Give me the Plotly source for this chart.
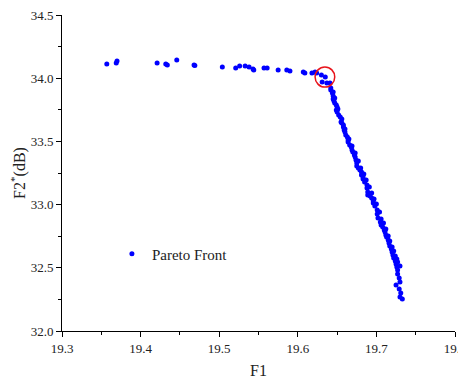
import plotly.graph_objects as go

# Pareto front data (F1, F2*)
f1_flat = [19.357, 19.369, 19.370, 19.421, 19.432, 19.434, 19.446, 19.468, 19.469,
           19.504, 19.521, 19.526, 19.533, 19.538, 19.543, 19.544, 19.557, 19.561,
           19.575, 19.586, 19.590, 19.607, 19.609, 19.618, 19.622, 19.624, 19.630,
           19.635, 19.631, 19.637, 19.641]
f2_flat = [34.112, 34.120, 34.136, 34.120, 34.112, 34.104, 34.144, 34.104, 34.100,
           34.089, 34.081, 34.097, 34.097, 34.089, 34.073, 34.065, 34.081, 34.081,
           34.065, 34.065, 34.057, 34.049, 34.041, 34.041, 34.049, 34.041, 34.025,
           34.009, 33.970, 33.962, 33.962]

f1_steep = [19.642, 19.642, 19.644, 19.645, 19.645, 19.646, 19.647, 19.649, 19.650,
            19.649, 19.650, 19.652, 19.654, 19.656, 19.655, 19.658, 19.658, 19.659,
            19.660, 19.661, 19.663, 19.664, 19.664, 19.666, 19.668, 19.669, 19.670,
            19.672, 19.673, 19.674, 19.675, 19.675, 19.677, 19.679, 19.681, 19.681,
            19.683, 19.683, 19.685, 19.688, 19.688, 19.689, 19.689, 19.692, 19.694,
            19.696, 19.696, 19.698, 19.701, 19.701, 19.702, 19.705, 19.706, 19.708,
            19.710, 19.711, 19.712, 19.713, 19.715, 19.716, 19.717, 19.719, 19.720,
            19.721, 19.722, 19.724, 19.725, 19.726, 19.727, 19.727, 19.729, 19.730,
            19.725, 19.729, 19.731, 19.730, 19.733,
            19.645, 19.647, 19.651, 19.656, 19.660, 19.665, 19.669, 19.673, 19.677,
            19.680, 19.684, 19.687, 19.691, 19.694, 19.697, 19.700, 19.704, 19.706,
            19.709, 19.712, 19.715, 19.717, 19.720, 19.722, 19.724, 19.726, 19.727,
            19.730]
f2_steep = [33.922, 33.907, 33.883, 33.859, 33.835, 33.820, 33.804, 33.788, 33.772,
            33.748, 33.733, 33.709, 33.693, 33.677, 33.653, 33.630, 33.614, 33.590,
            33.574, 33.551, 33.535, 33.511, 33.495, 33.472, 33.456, 33.432, 33.416,
            33.392, 33.377, 33.353, 33.329, 33.305, 33.290, 33.274, 33.258, 33.234,
            33.218, 33.203, 33.179, 33.155, 33.131, 33.100, 33.076, 33.068, 33.052,
            33.028, 33.013, 32.989, 32.957, 32.926, 32.894, 32.862, 32.839, 32.823,
            32.799, 32.783, 32.759, 32.744, 32.720, 32.696, 32.672, 32.649, 32.625,
            32.601, 32.578, 32.554, 32.530, 32.506, 32.483, 32.451, 32.419, 32.388,
            32.364, 32.332, 32.301, 32.269, 32.253,
            33.891, 33.843, 33.756, 33.646, 33.598, 33.519, 33.464, 33.408, 33.345,
            33.290, 33.242, 33.195, 33.139, 33.092, 33.044, 33.005, 32.941, 32.886,
            32.854, 32.807, 32.752, 32.712, 32.665, 32.633, 32.593, 32.570, 32.546,
            32.514]

f1 = f1_flat + f1_steep
f2 = f2_flat + f2_steep

# highlighted knee point (circle)
knee_f1 = [19.622, 19.647]
knee_f2 = [33.930, 34.089]

x_ticks = [19.3, 19.4, 19.5, 19.6, 19.7, 19.8]
y_ticks = [32.0, 32.5, 33.0, 33.5, 34.0, 34.5]

font = "Liberation Serif, Times New Roman, serif"

fig = go.Figure()
fig.add_trace(go.Scatter(
    x=f1, y=f2, mode="markers", name="Pareto Front",
    marker=dict(color="#0000ff", size=5, line=dict(width=0)),
))

fig.add_shape(type="circle", xref="x", yref="y",
              x0=knee_f1[0], x1=knee_f1[1], y0=knee_f2[0], y1=knee_f2[1],
              line=dict(color="#e8141b", width=1.5))

axis_common = dict(
    showline=True, linecolor="black", linewidth=1,
    ticks="outside", ticklen=5, tickwidth=1, tickcolor="black",
    showgrid=False, zeroline=False, mirror=False, automargin=False,
    ticklabeloverflow="allow",
    tickfont=dict(family=font, size=13, color="#222"),
)

fig.update_xaxes(
    range=[19.3, 19.8], tickvals=x_ticks, ticktext=[f"{v:.1f}" for v in x_ticks],
    minor=dict(dtick=0.05, tick0=19.3, ticks="outside", ticklen=3, tickcolor="black", showgrid=False),
    title=dict(text="F1", font=dict(family=font, size=16, color="#222"), standoff=10),
    **axis_common,
)
fig.update_yaxes(
    range=[32.0, 34.5], tickvals=y_ticks, ticktext=[f"{v:.1f}" for v in y_ticks],
    minor=dict(dtick=0.25, tick0=32.0, ticks="outside", ticklen=3, tickcolor="black", showgrid=False),
    title=dict(text="F2<sup>*</sup>(dB)", font=dict(family=font, size=16, color="#222"), standoff=2),
    **axis_common,
)

fig.update_layout(
    width=458, height=374,
    margin=dict(l=54, r=11, t=7, b=51),
    plot_bgcolor="white", paper_bgcolor="white",
    font=dict(family=font),
    showlegend=True,
    legend=dict(x=0.127, y=0.244, xanchor="left", yanchor="middle",
                bgcolor="rgba(0,0,0,0)",
                font=dict(family=font, size=15, color="#222")),
)

fig.write_html("out.html")
